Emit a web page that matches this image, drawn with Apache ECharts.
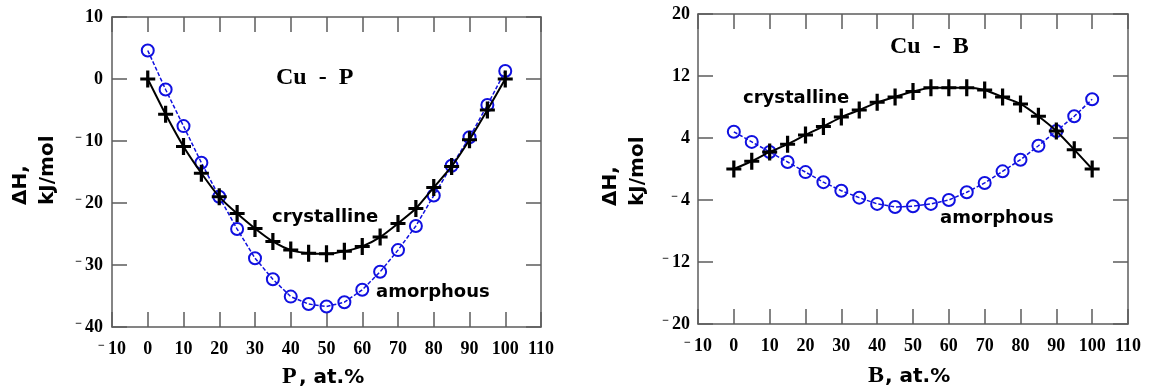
<!DOCTYPE html>
<html>
<head>
<meta charset="utf-8">
<script src="https://cdn.jsdelivr.net/npm/echarts@6/dist/echarts.min.js"></script>
<style>
  html, body { margin: 0; padding: 0; background: #fff; }
  #chart { width: 1150px; height: 390px; }
</style>
</head>
<body>
<div id="chart"></div>
<script>
// composition, at.% of P or B
const composition = [0, 5, 10, 15, 20, 25, 30, 35, 40, 45, 50, 55, 60, 65, 70, 75, 80, 85, 90, 95, 100];

// Cu - P, kJ/mol
const cuPCrystalline = [0, -5.7, -10.9, -15.2, -19.0, -21.7, -24.1, -26.2, -27.6, -28.1, -28.2, -27.8, -27.0, -25.5, -23.3, -20.9, -17.5, -14.1, -9.8, -5.0, 0];
const cuPAmorphous = [4.6, -1.7, -7.6, -13.5, -19.0, -24.2, -28.9, -32.3, -35.1, -36.3, -36.7, -36.0, -34.0, -31.1, -27.6, -23.7, -18.8, -14.0, -9.4, -4.2, 1.3];

// Cu - B, kJ/mol
const cuBCrystalline = [0, 1.0, 2.2, 3.2, 4.4, 5.5, 6.7, 7.6, 8.6, 9.3, 10.0, 10.5, 10.5, 10.5, 10.2, 9.3, 8.4, 6.8, 4.9, 2.5, 0];
const cuBAmorphous = [4.8, 3.5, 2.2, 0.9, -0.4, -1.7, -2.8, -3.7, -4.5, -4.9, -4.8, -4.5, -4.0, -3.0, -1.8, -0.3, 1.2, 3.0, 4.9, 6.8, 9.0];

// axis ranges: min, max, step
const xRange = [-10, 110, 10];
const cuPRange = [-40, 10, 10];
const cuBRange = [-20, 20, 8];

const AXIS_GRAY = "#5c5c5c";
const BLUE = "#1010e0";
const PLUS = "path://M0,7H14V10H0Z M5.5,0H8.5V17H5.5Z";

const chart = echarts.init(document.getElementById("chart"), null, { renderer: "canvas" });

const tickFont = {
  color: "#000",
  fontFamily: "Liberation Serif",
  fontWeight: "bold",
  fontSize: 18,
  formatter: (v) => (v < 0 ? "{m|−}" + Math.abs(v) : String(v)),
  rich: {
    m: { fontFamily: "Liberation Serif", fontWeight: "bold", fontSize: 12, verticalAlign: "top", padding: [0, 3, 0, 0] },
  },
};

function axis(gridIndex, range, position, withLabels, margin) {
  return {
    type: "value",
    gridIndex,
    position,
    min: range[0],
    max: range[1],
    interval: range[2],
    axisLine: { show: true, onZero: false, lineStyle: { color: AXIS_GRAY, width: 1.5 } },
    axisTick: { show: true, inside: true, length: 15, lineStyle: { color: AXIS_GRAY, width: 1.5 } },
    axisLabel: withLabels ? { ...tickFont, margin, show: true } : { show: false },
    splitLine: { show: false },
  };
}

function curve(xIdx, yIdx, xs, ys, kind) {
  const data = xs.map((x, i) => [x, ys[i]]);
  if (kind === "crystalline") {
    return {
      type: "line",
      xAxisIndex: xIdx,
      yAxisIndex: yIdx,
      data,
      smooth: 0.2,
      symbol: PLUS,
      symbolSize: [15, 17],
      itemStyle: { color: "#000" },
      lineStyle: { color: "#000", width: 2 },
      z: 3,
    };
  }
  return {
    type: "line",
    xAxisIndex: xIdx,
    yAxisIndex: yIdx,
    data,
    symbol: "circle",
    symbolSize: 12,
    itemStyle: { color: "rgba(255,255,255,0)", borderColor: BLUE, borderWidth: 2 },
    lineStyle: { color: BLUE, width: 1.5, type: [4, 2] },
    z: 2,
  };
}

const sans = '"DejaVu Sans"';
const serif = '"Liberation Serif"';
function label(x, y, text, font, extra) {
  return { type: "text", x, y, silent: true, style: { text, font, fill: "#000", align: "left", verticalAlign: "middle", ...extra } };
}
function yTitle(x, y) {
  return { ...label(x, y, "ΔH,\nkJ/mol", "bold 20px " + sans, { lineHeight: 27 }), rotation: Math.PI / 2 };
}

const option = {
  animation: false,
  backgroundColor: "#fff",
  grid: [
    { left: 112, top: 17, width: 429, height: 310 },
    { left: 698, top: 14, width: 430, height: 310 },
  ],
  xAxis: [
    axis(0, xRange, "bottom", true, 13),
    axis(0, xRange, "top", false),
    axis(1, xRange, "bottom", true, 13),
    axis(1, xRange, "top", false),
  ],
  yAxis: [
    axis(0, cuPRange, "left", true, 9),
    axis(0, cuPRange, "right", false),
    axis(1, cuBRange, "left", true, 8),
    axis(1, cuBRange, "right", false),
  ],
  series: [
    curve(0, 0, composition, cuPAmorphous, "amorphous"),
    curve(0, 0, composition, cuPCrystalline, "crystalline"),
    curve(2, 2, composition, cuBAmorphous, "amorphous"),
    curve(2, 2, composition, cuBCrystalline, "crystalline"),
  ],
  graphic: [
    // Cu - P panel
    label(276, 78, "Cu  -  P", "bold 24px " + serif),
    label(272, 217, "crystalline", "bold 18px " + sans),
    label(376, 292, "amorphous", "bold 18px " + sans),
    yTitle(34, 205),
    label(282, 377, "P", "bold 24px " + serif),
    label(299, 378, ", at.%", "bold 20px " + sans),
    // Cu - B panel
    label(890, 47, "Cu  -  B", "bold 24px " + serif),
    label(743, 98, "crystalline", "bold 18px " + sans),
    label(940, 218, "amorphous", "bold 18px " + sans),
    yTitle(624, 206),
    label(868, 376, "B", "bold 24px " + serif),
    label(885, 377, ", at.%", "bold 20px " + sans),
  ],
};

chart.setOption(option);
window.addEventListener("resize", () => chart.resize());
</script>
</body>
</html>
